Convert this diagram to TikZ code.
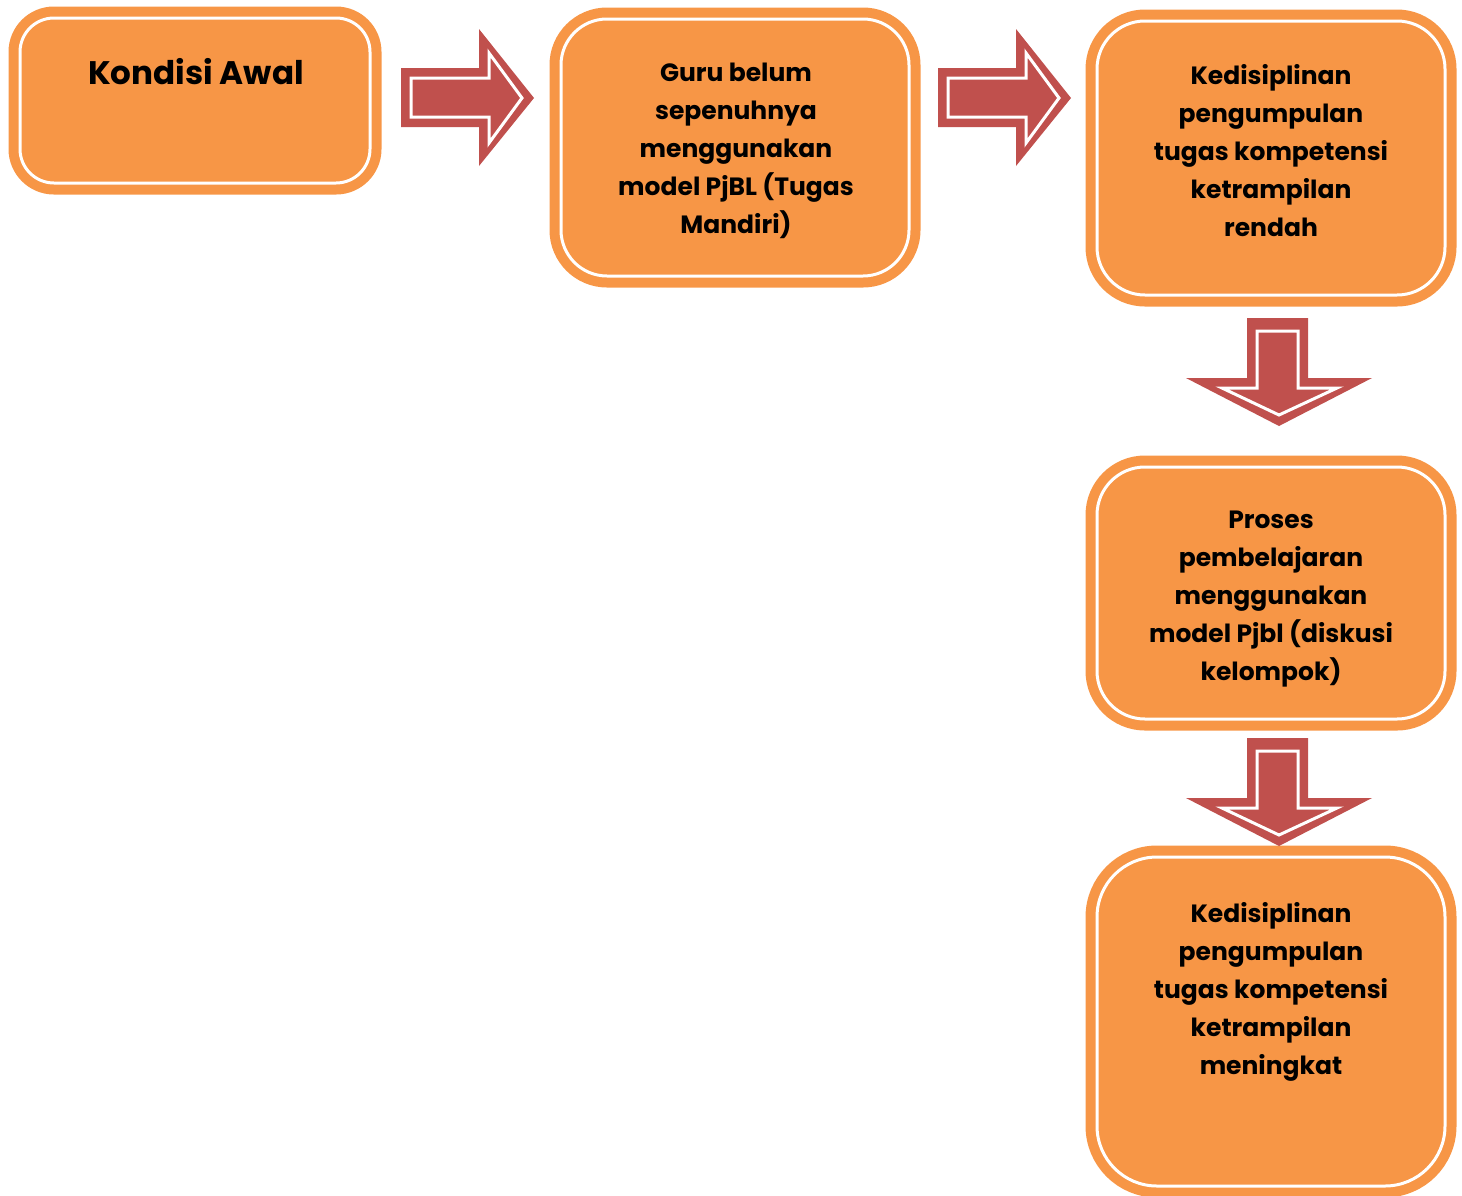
\documentclass[tikz,border=0pt]{standalone}
\usepackage{fontspec}
\setmainfont{Poppins}
\definecolor{boxorange}{HTML}{F79646}
\definecolor{arrowred}{HTML}{C0504D}
\begin{document}
\begin{tikzpicture}[x=0.5pt,y=-0.5pt,
  box/.style={rectangle, rounded corners=#1, inner sep=0pt, outer sep=0pt,
    fill=boxorange, draw=white, line width=1.5pt,
    preaction={draw=boxorange, line width=11.5pt}},
  box/.default=17pt,
  label/.style={align=center, font=\bfseries\fontsize{12.5}{19}\selectfont, inner sep=0pt},
  blockarrow/.style={fill=arrowred, draw=none},
  arrowline/.style={draw=white, line width=1.5pt, line join=miter}]
\useasboundingbox (0,0) rectangle (1462,1195);

% process boxes
\node[box=17pt, minimum width=175pt, minimum height=82.5pt] (b1) at (195,100.5) {};
\node[box=23pt, minimum width=174pt, minimum height=128.5pt] (b2) at (735,147.5) {};
\node[box=24pt, minimum width=174pt, minimum height=137pt] (b3) at (1271,158) {};
\node[box=24pt, minimum width=174pt, minimum height=126pt] (b4) at (1271,593) {};
\node[box=30pt, minimum width=174pt, minimum height=164.5pt] (b5) at (1271,1021.5) {};

% box texts
\node[label, font=\bfseries\fontsize{16.3}{20}\selectfont] (t1) at (196,71.5) {Kondisi Awal};
\node[label] (t2) at (736,151) {Guru belum\\sepenuhnya\\menggunakan\\model PjBL (Tugas\\Mandiri)};
\node[label] (t3) at (1271,151) {Kedisiplinan\\pengumpulan\\tugas kompetensi\\ketrampilan\\rendah};
\node[label] (t4) at (1271,599) {Proses\\pembelajaran\\menggunakan\\model Pjbl (diskusi\\kelompok)};
\node[label] (t5) at (1271,992) {Kedisiplinan\\pengumpulan\\tugas kompetensi\\ketrampilan\\meningkat};

% block arrows pointing right
\foreach \dx/\nm in {0/r1, 537/r2}{
  \begin{scope}[xshift=\dx*0.5pt]
    \fill[blockarrow] (401,68) -- (479,68) -- (479,29) -- (534,98) -- (479,166) -- (479,127) -- (401,127) -- cycle;
    \draw[arrowline] (411,78) -- (489,78) -- (489,53) -- (522,98) -- (489,143) -- (489,117) -- (411,117) -- cycle;
    \coordinate (\nm) at (534,98);
  \end{scope}
}

% block arrows pointing down
\foreach \dy/\nm in {0/d1, 420/d2}{
  \begin{scope}[yshift=-\dy*0.5pt]
    \fill[blockarrow] (1247,318) -- (1308,318) -- (1308,378) -- (1372,378) -- (1279,426) -- (1186,378) -- (1247,378) -- cycle;
    \draw[arrowline] (1257,331) -- (1298,331) -- (1298,388) -- (1337,388) -- (1279,415) -- (1222,388) -- (1257,388) -- cycle;
    \coordinate (\nm) at (1279,426);
  \end{scope}
}
\end{tikzpicture}
\end{document}
